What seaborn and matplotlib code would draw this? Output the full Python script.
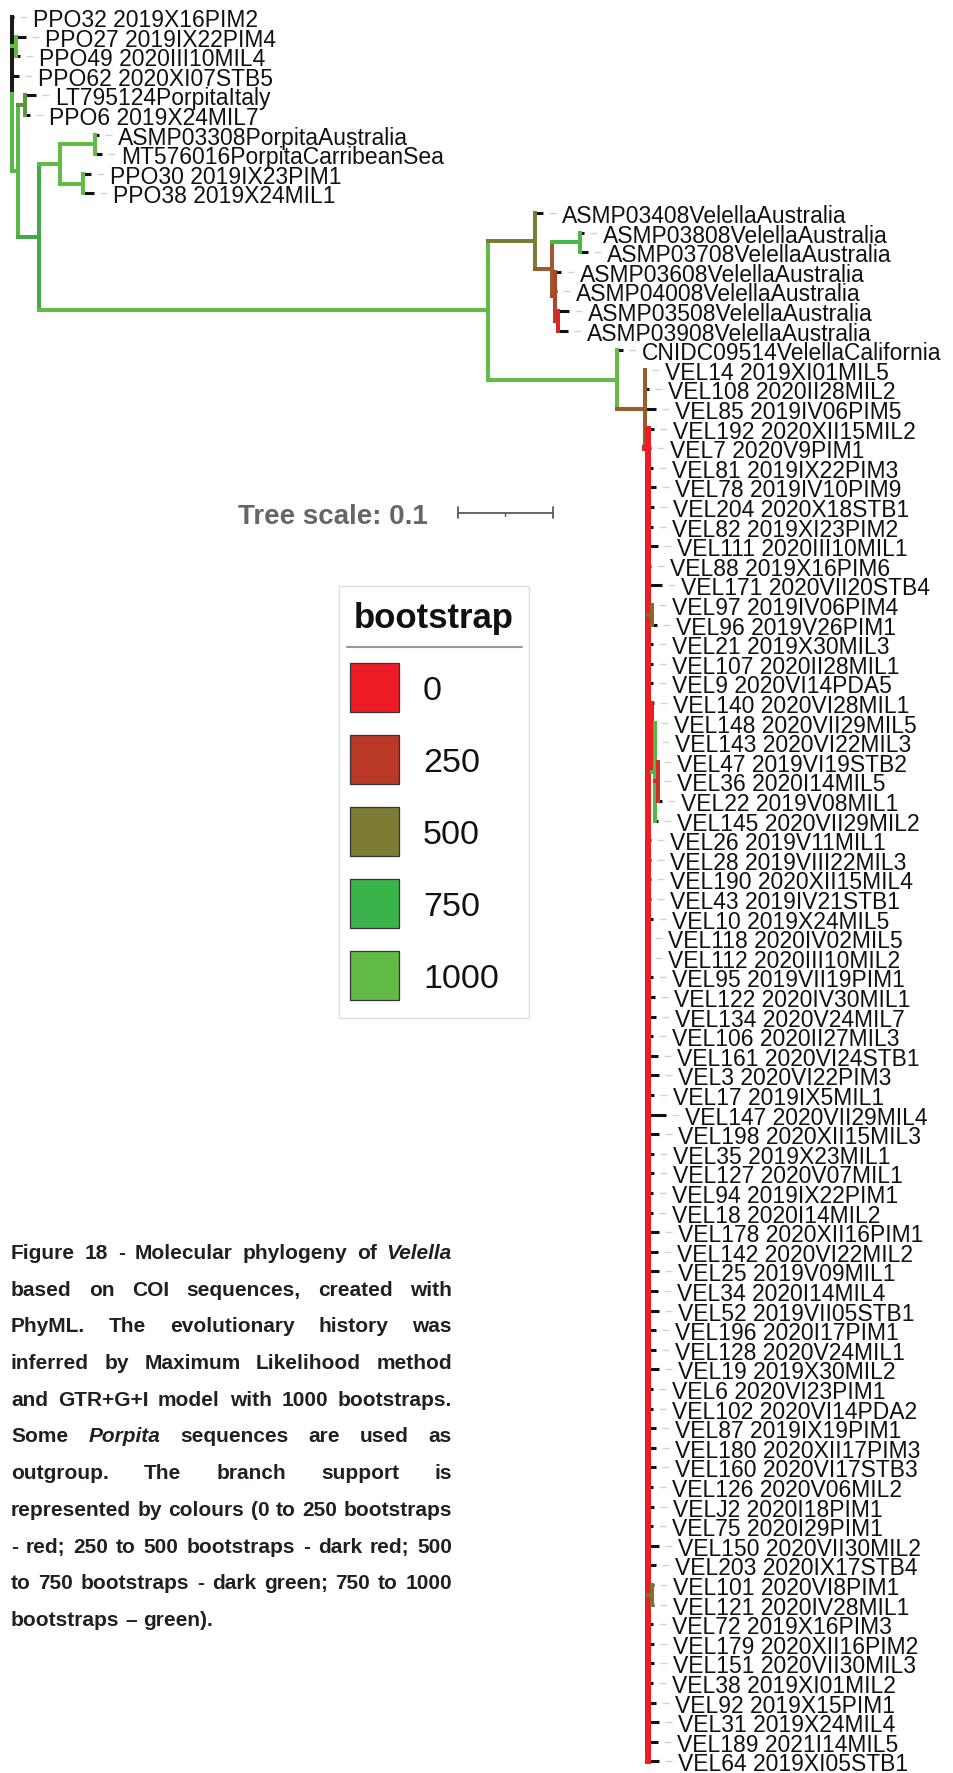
import matplotlib
matplotlib.use("Agg")
import matplotlib.pyplot as plt
import seaborn as sns
from matplotlib.collections import LineCollection
from matplotlib.patches import Rectangle
import sys
sys.setrecursionlimit(10000)

# ------------------------------------------------------------------ data
leaf_names = [
    "PPO32 2019X16PIM2", "PPO27 2019IX22PIM4", "PPO49 2020III10MIL4", "PPO62 2020XI07STB5",
    "LT795124PorpitaItaly", "PPO6 2019X24MIL7", "ASMP03308PorpitaAustralia",
    "MT576016PorpitaCarribeanSea", "PPO30 2019IX23PIM1", "PPO38 2019X24MIL1",
    "ASMP03408VelellaAustralia", "ASMP03808VelellaAustralia", "ASMP03708VelellaAustralia",
    "ASMP03608VelellaAustralia", "ASMP04008VelellaAustralia", "ASMP03508VelellaAustralia",
    "ASMP03908VelellaAustralia", "CNIDC09514VelellaCalifornia",
    "VEL14 2019XI01MIL5", "VEL108 2020II28MIL2", "VEL85 2019IV06PIM5", "VEL192 2020XII15MIL2",
    "VEL7 2020V9PIM1", "VEL81 2019IX22PIM3", "VEL78 2019IV10PIM9", "VEL204 2020X18STB1",
    "VEL82 2019XI23PIM2", "VEL111 2020III10MIL1", "VEL88 2019X16PIM6", "VEL171 2020VII20STB4",
    "VEL97 2019IV06PIM4", "VEL96 2019V26PIM1", "VEL21 2019X30MIL3", "VEL107 2020II28MIL1",
    "VEL9 2020VI14PDA5", "VEL140 2020VI28MIL1", "VEL148 2020VII29MIL5", "VEL143 2020VI22MIL3",
    "VEL47 2019VI19STB2", "VEL36 2020I14MIL5", "VEL22 2019V08MIL1", "VEL145 2020VII29MIL2",
    "VEL26 2019V11MIL1", "VEL28 2019VIII22MIL3", "VEL190 2020XII15MIL4", "VEL43 2019IV21STB1",
    "VEL10 2019X24MIL5", "VEL118 2020IV02MIL5", "VEL112 2020III10MIL2", "VEL95 2019VII19PIM1",
    "VEL122 2020IV30MIL1", "VEL134 2020V24MIL7", "VEL106 2020II27MIL3", "VEL161 2020VI24STB1",
    "VEL3 2020VI22PIM3", "VEL17 2019IX5MIL1", "VEL147 2020VII29MIL4", "VEL198 2020XII15MIL3",
    "VEL35 2019X23MIL1", "VEL127 2020V07MIL1", "VEL94 2019IX22PIM1", "VEL18 2020I14MIL2",
    "VEL178 2020XII16PIM1", "VEL142 2020VI22MIL2", "VEL25 2019V09MIL1", "VEL34 2020I14MIL4",
    "VEL52 2019VII05STB1", "VEL196 2020I17PIM1", "VEL128 2020V24MIL1", "VEL19 2019X30MIL2",
    "VEL6 2020VI23PIM1", "VEL102 2020VI14PDA2", "VEL87 2019IX19PIM1", "VEL180 2020XII17PIM3",
    "VEL160 2020VI17STB3", "VEL126 2020V06MIL2", "VELJ2 2020I18PIM1", "VEL75 2020I29PIM1",
    "VEL150 2020VII30MIL2", "VEL203 2020IX17STB4", "VEL101 2020VI8PIM1", "VEL121 2020IV28MIL1",
    "VEL72 2019X16PIM3", "VEL179 2020XII16PIM2", "VEL151 2020VII30MIL3", "VEL38 2019XI01MIL2",
    "VEL92 2019X15PIM1", "VEL31 2019X24MIL4", "VEL189 2021I14MIL5", "VEL64 2019XI05STB1",
]

# distance of each tip from the root (substitutions per site)
leaf_depth = [
    0.0021, 0.0147, 0.0084, 0.0074, 0.0253, 0.0189, 0.0916, 0.0947, 0.0832, 0.0863,
    0.5589, 0.6021, 0.6063, 0.5779, 0.5737, 0.5863, 0.5853, 0.6432,
    0.6674, 0.6705, 0.6779, 0.6758, 0.6726, 0.6747, 0.6779, 0.6758, 0.6747, 0.6800,
    0.6726, 0.6842, 0.6747, 0.6789, 0.6747, 0.6747, 0.6747, 0.6758, 0.6768, 0.6779,
    0.6800, 0.6800, 0.6842, 0.6800, 0.6726, 0.6726, 0.6726, 0.6726, 0.6747, 0.6705,
    0.6705, 0.6747, 0.6768, 0.6779, 0.6747, 0.6800, 0.6811, 0.6758, 0.6884, 0.6811,
    0.6758, 0.6758, 0.6747, 0.6747, 0.6811, 0.6800, 0.6811, 0.6800, 0.6811, 0.6779,
    0.6779, 0.6811, 0.6747, 0.6747, 0.6779, 0.6779, 0.6779, 0.6747, 0.6758, 0.6747,
    0.6811, 0.6779, 0.6758, 0.6758, 0.6747, 0.6758, 0.6758, 0.6747, 0.6779, 0.6811,
    0.6800, 0.6811,
]

leaf_parent = (
    ["N0", "N1", "N1", "N0", "N3", "N3", "N6", "N6", "N7", "N7"]
    + ["VA", "VA3", "VA3", "X", "X", "VA4", "VA4", "VB"]
    + ["VC", "VC", "VC"]
    + ["RB"] * 9 + ["O1", "O1"] + ["RB"] * 3
    + ["G1", "G2", "G2", "G3", "G3", "G3", "G2"]
    + ["RB"] * 38 + ["O2", "O2"] + ["RB"] * 8
)

node_names = ["N0", "N1", "N2", "N3", "N4", "N5", "N6", "N7", "V0", "VA", "VA2", "VA3",
              "X", "VA4", "VB", "VC", "RB", "O1", "G1", "G2", "G3", "O2"]
node_parent = [None, "N0", "N0", "N2", "N2", "N4", "N5", "N5", "N4", "V0", "VA", "VA2",
               "VA2", "X", "V0", "VB", "VC", "RB", "RB", "G1", "G2", "RB"]
node_depth = [0.0, 0.0042, 0.0063, 0.0137, 0.0284, 0.0505, 0.0874, 0.0747, 0.5011, 0.5505,
              0.5684, 0.5979, 0.5716, 0.5747, 0.6368, 0.6663, 0.6695, 0.6737, 0.6737,
              0.6768, 0.6800, 0.6737]
node_support = [None, 1000, 950, 600, 700, 1000, 1000, 1000, 1000, 500,
                380, 850, 300, 100, 1000, 380, 0, 420, 0, 900, 150, 450]
ladder_nodes = ["RB"]          # large unresolved clade drawn as a caterpillar

legend_values = [0, 250, 500, 750, 1000]
legend_colors = ["#ED1C24", "#BA3826", "#7C7C34", "#3AB44A", "#62BB46"]
scale_length = 0.1

caption_lines = [
    "Figure 18 - Molecular phylogeny of *Velella*",
    "based on COI sequences, created with",
    "PhyML. The evolutionary history was",
    "inferred by Maximum Likelihood method",
    "and GTR+G+I model with 1000 bootstraps.",
    "Some *Porpita* sequences are used as",
    "outgroup. The branch support is",
    "represented by colours (0 to 250 bootstraps",
    "- red; 250 to 500 bootstraps - dark red; 500",
    "to 750 bootstraps -  dark green; 750 to 1000",
    "bootstraps \u2013 green).",
]

# ------------------------------------------------------------------ style
sns.set_theme(style="white")
plt.rcParams["font.family"] = ["Liberation Sans", "DejaVu Sans"]

W, H = 954, 1774
PX_PER_UNIT = 950.0       # pixels per substitution unit
ROOT_PX = 12.0
ROW0_PX, ROW_PX = 18.0, 19.6

fig = plt.figure(figsize=(W / 100, H / 100), dpi=100)
fig.patch.set_facecolor("white")
ax = fig.add_axes([0, 0, 1, 1])
ax.set_axis_off()
ax.set_xlim(-ROOT_PX / PX_PER_UNIT, (W - ROOT_PX) / PX_PER_UNIT)
ax.set_ylim((H - ROW0_PX) / ROW_PX, -ROW0_PX / ROW_PX)

ax2 = fig.add_axes([0, 0, 1, 1])
ax2.set_axis_off()
ax2.patch.set_alpha(0)
ax2.set_xlim(0, W)
ax2.set_ylim(H, 0)

grad = sns.blend_palette(legend_colors, n_colors=1001)


def support_color(s):
    if s is None:
        return "#1a1a1a"
    return grad[int(round(s))]


# ------------------------------------------------------------------ tree build
leaf_index = {n: i for i, n in enumerate(leaf_names)}
depth, parent, support = {}, {}, {}
for n, d, p in zip(leaf_names, leaf_depth, leaf_parent):
    depth[n], parent[n] = d, p
for n, p, d, s in zip(node_names, node_parent, node_depth, node_support):
    depth[n], parent[n], support[n] = d, p, s
children = {n: [] for n in node_names}
for n in list(leaf_names) + list(node_names):
    if parent[n] is not None:
        children[parent[n]].append(n)


def first_leaf(n):
    if n in leaf_index:
        return leaf_index[n]
    return min(first_leaf(c) for c in children[n])


for n in children:
    children[n].sort(key=first_leaf)

internal = list(node_names)
for n in ladder_nodes:
    kids = children.pop(n)
    p = parent[n]
    names = [f"{n}_{k}" for k in range(len(kids) - 1)]
    for k, vn in enumerate(names):
        depth[vn], support[vn] = depth[n], support[n]
        parent[vn] = p if k == 0 else names[k - 1]
        children[vn] = [kids[k], names[k + 1]] if k < len(names) - 1 else [kids[k], kids[k + 1]]
        for c in children[vn]:
            parent[c] = vn
    children[p][children[p].index(n)] = names[0]
    internal.remove(n)
    internal.extend(names)

ypos = {}


def compute_y(n):
    if n in leaf_index:
        ypos[n] = float(leaf_index[n])
    else:
        for c in children[n]:
            compute_y(c)
        ypos[n] = (ypos[children[n][0]] + ypos[children[n][-1]]) / 2
    return ypos[n]


root = [n for n in node_names if parent[n] is None][0]
compute_y(root)

# ------------------------------------------------------------------ draw branches
leaf_segs, dash_segs = [], []
for n in leaf_names:
    y = ypos[n]
    leaf_segs.append([(depth[parent[n]], y), (depth[n], y)])
    dash_segs.append([(depth[n] + 6 / PX_PER_UNIT, y), (depth[n] + 13 / PX_PER_UNIT, y)])
ax.add_collection(LineCollection(leaf_segs, colors="#111111", linewidths=2.2,
                                 capstyle="butt", zorder=1))
ax.add_collection(LineCollection(dash_segs, colors="#d2d2d2", linewidths=1.0,
                                 capstyle="butt", zorder=1))

for n in sorted(internal, key=lambda m: depth[m]):
    lw = 4.3 if n.startswith("RB") else 2.9
    first, last = children[n][0], children[n][-1]
    if parent[n] is None:
        # root: upper part neutral, lower part takes the colour of the supported clade
        segs = [[(depth[n], ypos[first]), (depth[n], ypos[n])],
                [(depth[n], ypos[n]), (depth[n], ypos[last])]]
        cols = [support_color(None), support_color(support.get(last))]
    else:
        col = support_color(support[n])
        segs = [[(depth[n], ypos[first]), (depth[n], ypos[last])],
                [(depth[parent[n]], ypos[n]), (depth[n], ypos[n])]]
        cols = [col, col]
    ax.add_collection(LineCollection(segs, colors=cols, linewidths=lw,
                                     capstyle="projecting", zorder=2))

for n in leaf_names:
    ax.text(depth[n] + 19 / PX_PER_UNIT, ypos[n], n, fontsize=16.5, color="#111111",
            ha="left", va="center_baseline", zorder=3, clip_on=False)

# ------------------------------------------------------------------ scale bar
sb_x0 = (458 - ROOT_PX) / PX_PER_UNIT
sb_row = (513.5 - ROW0_PX) / ROW_PX
sb_col = "#5a5a5a"
ax.plot([sb_x0, sb_x0 + scale_length], [sb_row, sb_row], color=sb_col, lw=1.3)
for xx in (sb_x0, sb_x0 + scale_length):
    ax.plot([xx, xx], [sb_row - 0.3, sb_row + 0.3], color=sb_col, lw=1.3)
ax.plot([sb_x0 + scale_length / 2] * 2, [sb_row, sb_row + 0.2], color=sb_col, lw=1.0)
ax.text((238 - ROOT_PX) / PX_PER_UNIT, sb_row, f"Tree scale: {scale_length:g}", fontsize=20,
        fontweight="bold", color="#666666", ha="left", va="center_baseline")

# ------------------------------------------------------------------ legend
ax2.add_patch(Rectangle((339, 587), 190, 432, facecolor="white", edgecolor="#dedede", lw=1.0))
ax2.text(434, 628, "bootstrap", fontsize=25, fontweight="bold", color="#111111",
         ha="center", va="baseline")
ax2.plot([347, 522], [648, 648], color="#9a9a9a", lw=1.5)
for k, (v, c) in enumerate(zip(legend_values, legend_colors)):
    top = 664 + k * 71.9
    ax2.add_patch(Rectangle((350, top), 49, 49, facecolor=c, edgecolor="#333333", lw=0.9))
    ax2.text(423, top + 24.5, str(v), fontsize=24.5, color="#111111", ha="left",
             va="center_baseline")

# ------------------------------------------------------------------ caption (justified)
renderer = fig.canvas.get_renderer()
cap_left, cap_right = 11.0, 452.0
cap_fs = 15.3
line_texts = []
for k, line in enumerate(caption_lines):
    base = 1259 + k * 36.7
    items = []
    for w in line.split():
        italic = w.startswith("*")
        t = ax2.text(cap_left, base, w.strip("*"), fontsize=cap_fs, fontweight="bold",
                     style="italic" if italic else "normal", color="#231f20",
                     ha="left", va="baseline")
        items.append(t)
    line_texts.append(items)


def widths_of(items):
    return [t.get_window_extent(renderer).width for t in items]


space_w = 0.278 * cap_fs * 100 / 72
max_nat = max(sum(widths_of(it)) + space_w * (len(it) - 1) for it in line_texts[:-1])
scale = min(1.0, (cap_right - cap_left) * 0.99 / max_nat)
if scale < 1.0:
    cap_fs *= scale
    space_w *= scale
    for it in line_texts:
        for t in it:
            t.set_fontsize(cap_fs)

for k, items in enumerate(line_texts):
    ws = widths_of(items)
    if k == len(line_texts) - 1:
        gap = space_w
    else:
        gap = (cap_right - cap_left - sum(ws)) / (len(items) - 1)
    x = cap_left
    for t, w in zip(items, ws):
        t.set_x(x)
        x += w + gap

fig.savefig("out.png", dpi=100, facecolor="white")
